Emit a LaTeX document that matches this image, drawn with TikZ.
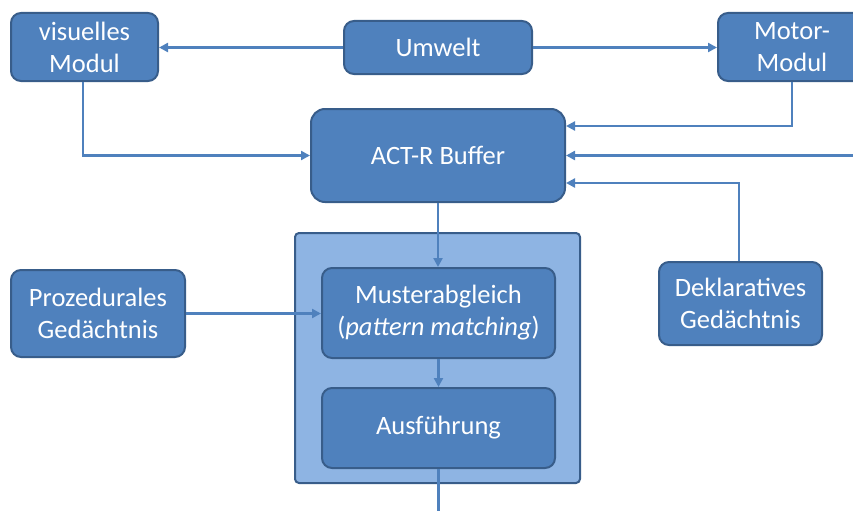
\documentclass[tikz,border=0pt]{standalone}
\usepackage{fontspec}
\setmainfont{Carlito}
\usetikzlibrary{arrows.meta,calc}
\definecolor{boxfill}{HTML}{4F81BD}
\definecolor{boxline}{HTML}{385D8A}
\definecolor{groupfill}{HTML}{8EB4E3}
\definecolor{wire}{HTML}{4F81BD}
\tikzset{
  unit/.style={draw=boxline, line width=2pt, fill=boxfill, rounded corners=10pt,
    text=white, align=center, inner sep=0pt,
    font=\fontsize{26.5}{32}\selectfont},
  group/.style={draw=boxline, line width=2pt, fill=groupfill, rounded corners=4pt, inner sep=0pt},
  link/.style={draw=wire, line width=2.5pt, -{Triangle[length=9pt,width=9pt]}},
  plainlink/.style={draw=wire, line width=2.5pt},
}
\begin{document}
\begin{tikzpicture}[x=1pt,y=-1pt]
\useasboundingbox (0,0) rectangle (853,511);
\clip (0,0) rectangle (853,511);

% modules along the top
\node[unit, minimum width=147pt, minimum height=68pt] (vis) at (84.5,47) {visuelles\\Modul};
\node[unit, minimum width=188pt, minimum height=53pt] (umw) at (438,47.5) {Umwelt};
\node[unit, minimum width=148pt, minimum height=68pt] (mot) at (792,47) {Motor-\\Modul};

% central buffer
\node[unit, rounded corners=14pt, minimum width=254pt, minimum height=93pt] (act) at (438,155.5) {ACT-R Buffer};

% production system group
\node[group, minimum width=285pt, minimum height=250pt] (grp) at (437.5,358) {};
\node[unit, minimum width=233pt, minimum height=90pt] (muster) at (438.5,313) {Musterabgleich\\(\textit{pattern matching})};
\node[unit, minimum width=233pt, minimum height=80pt] (ausf) at (438.5,428) {Ausführung};

% memories
\node[unit, minimum width=174pt, minimum height=87pt] (proz) at (98,313.5) {Prozedurales\\Gedächtnis};
\node[unit, minimum width=163pt, minimum height=83pt] (dekl) at (740.5,303.5) {Deklaratives\\Gedächtnis};

% free ends
\coordinate (rin) at (853,155.5);
\coordinate (out) at (438.5,511);

% connectors
\draw[link] (umw.west) -- (vis.east |- umw.west);
\draw[link] (umw.east) -- (mot.west |- umw.east);
\draw[link] ($(vis.south)+(-1.5,0)$) |- (act.west);
\draw[link] (mot.south) |- ($(act.east)+(0,-29.5)$);
\draw[link] (rin) -- (act.east);
\draw[link] ($(dekl.north)+(-1.5,0)$) |- ($(act.east)+(0,27.5)$);
\draw[link] (act.south) -- (muster.north -| act.south);
\draw[link] (proz.east) -- (muster.west |- proz.east);
\draw[link] (muster.south) -- (ausf.north);
\draw[plainlink] (ausf.south) -- (out);
\end{tikzpicture}
\end{document}
